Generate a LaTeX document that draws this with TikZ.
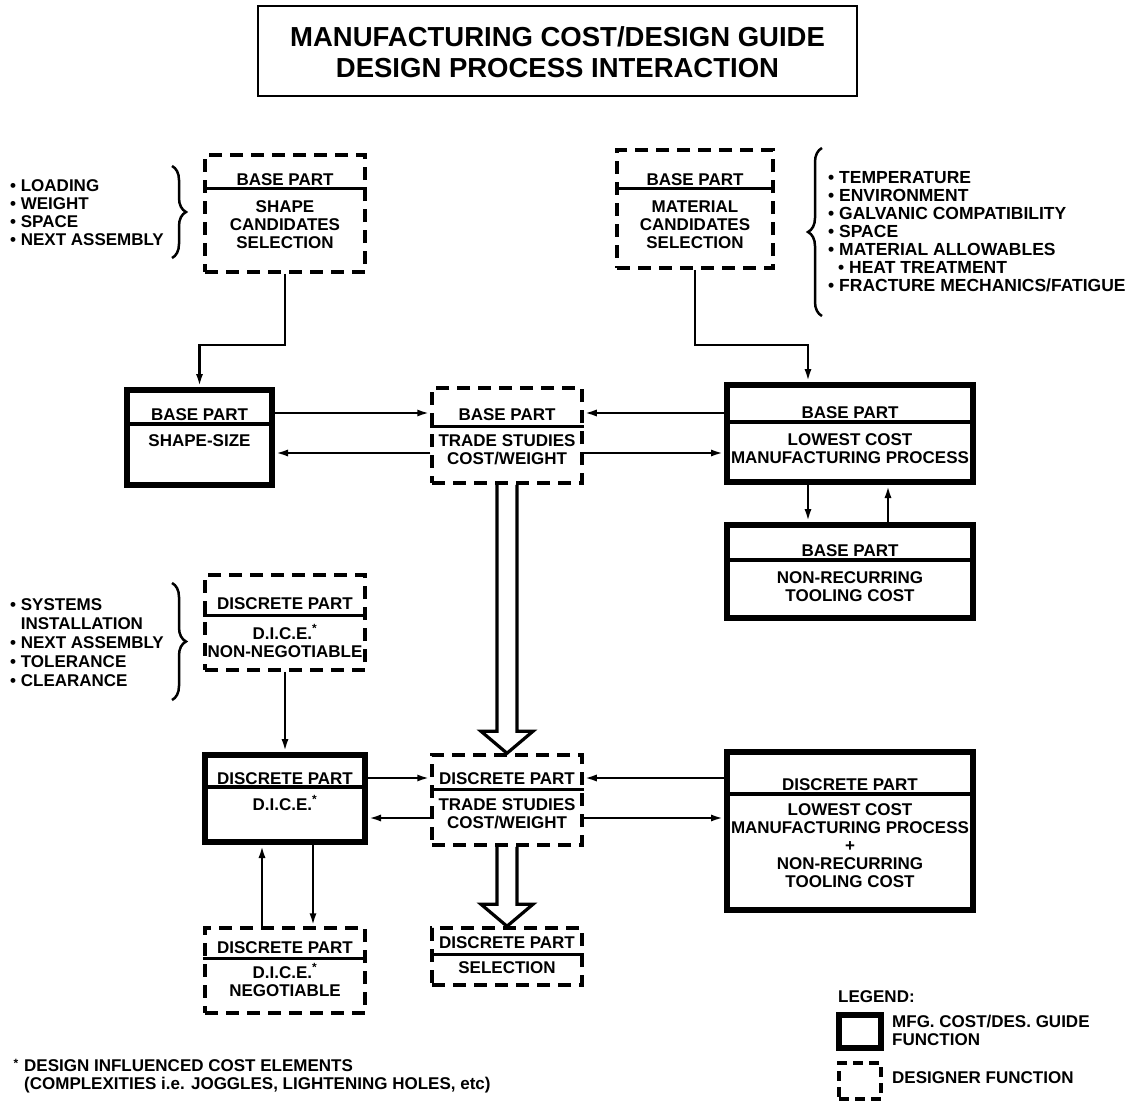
\documentclass[tikz,border=0pt]{standalone}
\usepackage{fontspec}
\setmainfont{Liberation Sans}
\usetikzlibrary{arrows.meta,decorations.pathreplacing,calc}
\begin{document}
\begin{tikzpicture}[x=1pt,y=-1pt,
  sbox/.style={draw, line width=6pt, inner sep=0pt},
  dbox/.style={draw, line width=3.5pt, dash pattern=on 13pt off 8pt, inner sep=0pt},
  sdiv/.style={line width=3.5pt},
  ddiv/.style={line width=2.8pt},
  conn/.style={line width=2.8pt},
  arr/.style={conn, -{Latex[length=13pt,width=7pt]}},
  hollow/.style={line width=3.2pt, line join=miter},
  txt/.style={font=\fontsize{17}{18}\selectfont\bfseries, align=center, inner sep=0pt},
  lst/.style={font=\fontsize{17}{18}\selectfont\bfseries, align=left, inner sep=0pt, anchor=west},
  brc/.style={line width=2.5pt, decorate, decoration={brace, amplitude=14pt}},
]
\useasboundingbox (0,0) rectangle (1144,1103);

% helper coordinates
\coordinate (yj) at (0,345);
\coordinate (yb1) at (0,413);
\coordinate (yb2) at (0,453);
\coordinate (yd1) at (0,778);
\coordinate (yd2) at (0,818);
\coordinate (xm) at (808,0);
\coordinate (xr) at (888,0);
\coordinate (xl) at (262,0);
\coordinate (xr2) at (313,0);

% title
\node[draw, line width=2pt, minimum width=599pt, minimum height=90pt, inner sep=0pt] (title) at (557.5,51) {};
\node[font=\fontsize{27.5}{31}\selectfont\bfseries, align=center, inner sep=0pt] (titletext) at (557.5,52.5) {MANUFACTURING COST/DESIGN GUIDE\\DESIGN PROCESS INTERACTION};

% shape candidates
\node[dbox, minimum width=160pt, minimum height=117pt] (shapesel) at (285,213.5) {};
\draw[ddiv] ($(shapesel.north west)+(0,35)$) -- ($(shapesel.north east)+(0,35)$);
\node[txt] (shapeselh) at (285,180) {BASE PART};
\node[txt] (shapeselt) at (285,225) {SHAPE\\CANDIDATES\\SELECTION};
\node[lst] (lista) at (10,213) {• LOADING\\• WEIGHT\\• SPACE\\• NEXT ASSEMBLY};
\draw[brc] (172,166) -- (172,258);

% material candidates
\node[dbox, minimum width=156pt, minimum height=118pt] (matsel) at (695,209) {};
\draw[ddiv] ($(matsel.north west)+(0,40)$) -- ($(matsel.north east)+(0,40)$);
\node[txt] (matselh) at (695,180) {BASE PART};
\node[txt] (matselt) at (695,225) {MATERIAL\\CANDIDATES\\SELECTION};
\node[lst, font=\fontsize{17.5}{18}\selectfont\bfseries] (listb) at (828,231.5) {• TEMPERATURE\\• ENVIRONMENT\\• GALVANIC COMPATIBILITY\\• SPACE\\• MATERIAL ALLOWABLES\\\hspace*{10pt}• HEAT TREATMENT\\• FRACTURE MECHANICS/FATIGUE};
\draw[brc] (822,316) -- (822,148);

% shape-size
\node[sbox, minimum width=145pt, minimum height=95pt] (shapesize) at (199.5,437.5) {};
\draw[sdiv] ($(shapesize.north west)+(0,37)$) -- ($(shapesize.north east)+(0,37)$);
\node[txt] (shapesizeh) at (199.5,415) {BASE PART};
\node[txt] (shapesizet) at (199.5,441) {SHAPE-SIZE};

% trade studies base
\node[dbox, minimum width=150pt, minimum height=95pt] (tradebase) at (507,435.5) {};
\draw[ddiv] ($(tradebase.north west)+(0,40)$) -- ($(tradebase.north east)+(0,40)$);
\node[txt] (tradebaseh) at (507,415) {BASE PART};
\node[txt] (tradebaset) at (507,450) {TRADE STUDIES\\COST/WEIGHT};

% lowest cost base
\node[sbox, minimum width=246pt, minimum height=97pt] (lcbase) at (850,433.5) {};
\draw[sdiv] ($(lcbase.north west)+(0,40)$) -- ($(lcbase.north east)+(0,40)$);
\node[txt] (lcbaseh) at (850,413) {BASE PART};
\node[txt] (lcbaset) at (850,449) {LOWEST COST\\MANUFACTURING PROCESS};

% tooling base
\node[sbox, minimum width=246pt, minimum height=93pt] (toolbase) at (850,571.5) {};
\draw[sdiv] ($(toolbase.north west)+(0,38)$) -- ($(toolbase.north east)+(0,38)$);
\node[txt] (toolbaseh) at (850,551) {BASE PART};
\node[txt] (toolbaset) at (850,587) {NON-RECURRING\\TOOLING COST};

% non-negotiable
\node[dbox, minimum width=160pt, minimum height=95pt] (nonneg) at (285,622.5) {};
\draw[ddiv] ($(nonneg.north west)+(0,42)$) -- ($(nonneg.north east)+(0,42)$);
\node[txt] (nonnegh) at (285,604) {DISCRETE PART};
\node[txt] (nonnegt) at (285,641) {D.I.C.E.\textsuperscript{*}\\NON-NEGOTIABLE};
\node[lst, font=\fontsize{17}{19}\selectfont\bfseries] (listc) at (10,643) {• SYSTEMS\\\phantom{• }INSTALLATION\\• NEXT ASSEMBLY\\• TOLERANCE\\• CLEARANCE};
\draw[brc] (172,583) -- (172,700);

% D.I.C.E.
\node[sbox, minimum width=160pt, minimum height=87pt] (dice) at (285,798.5) {};
\draw[sdiv] ($(dice.north west)+(0,35)$) -- ($(dice.north east)+(0,35)$);
\node[txt] (diceh) at (285,779) {DISCRETE PART};
\node[txt] (dicet) at (285,803) {D.I.C.E.\textsuperscript{*}};

% trade studies discrete
\node[dbox, minimum width=150pt, minimum height=90pt] (tradedisc) at (507,800) {};
\draw[ddiv] ($(tradedisc.north west)+(0,36)$) -- ($(tradedisc.north east)+(0,36)$);
\node[txt] (tradedisch) at (507,779) {DISCRETE PART};
\node[txt] (tradedisct) at (507,814) {TRADE STUDIES\\COST/WEIGHT};

% lowest cost discrete
\node[sbox, minimum width=246pt, minimum height=158pt] (lcdisc) at (850,831) {};
\draw[sdiv] ($(lcdisc.north west)+(0,45)$) -- ($(lcdisc.north east)+(0,45)$);
\node[txt] (lcdisch) at (850,785) {DISCRETE PART};
\node[txt] (lcdisct) at (850,846) {LOWEST COST\\MANUFACTURING PROCESS\\+\\NON-RECURRING\\TOOLING COST};

% negotiable
\node[dbox, minimum width=160pt, minimum height=85pt] (negot) at (285,970.5) {};
\draw[ddiv] ($(negot.north west)+(0,32)$) -- ($(negot.north east)+(0,32)$);
\node[txt] (negoth) at (285,948) {DISCRETE PART};
\node[txt] (negott) at (285,980) {D.I.C.E.\textsuperscript{*}\\NEGOTIABLE};

% selection
\node[dbox, minimum width=150pt, minimum height=57pt] (selection) at (507,956.5) {};
\draw[ddiv] ($(selection.north west)+(0,28)$) -- ($(selection.north east)+(0,28)$);
\node[txt] (selectionh) at (507,943) {DISCRETE PART};
\node[txt] (selectiont) at (507,968) {SELECTION};

% connectors
\draw[arr] (shapesel.south) -- (shapesel.south |- yj) -| (shapesize.north);
\draw[arr] (matsel.south) -- (matsel.south |- yj) -| (lcbase.north -| xm);
\draw[arr] (shapesize.east |- yb1) -- (tradebase.west |- yb1);
\draw[arr] (tradebase.west |- yb2) -- (shapesize.east |- yb2);
\draw[arr] (lcbase.west |- yb1) -- (tradebase.east |- yb1);
\draw[arr] (tradebase.east |- yb2) -- (lcbase.west |- yb2);
\draw[arr] (lcbase.south -| xm) -- (toolbase.north -| xm);
\draw[arr] (toolbase.north -| xr) -- (lcbase.south -| xr);
\draw[arr] (nonneg.south) -- (dice.north);
\draw[arr] (dice.east |- yd1) -- (tradedisc.west |- yd1);
\draw[arr] (tradedisc.west |- yd2) -- (dice.east |- yd2);
\draw[arr] (lcdisc.west |- yd1) -- (tradedisc.east |- yd1);
\draw[arr] (tradedisc.east |- yd2) -- (lcdisc.west |- yd2);
\draw[arr] (negot.north -| xl) -- (dice.south -| xl);
\draw[arr] (dice.south -| xr2) -- (negot.north -| xr2);

% hollow arrows
\draw[hollow] ($(tradebase.south)+(-10,0)$) -- ($(tradedisc.north)+(-10,-22)$) -- ($(tradedisc.north)+(-26,-22)$) -- (tradedisc.north) -- ($(tradedisc.north)+(26,-22)$) -- ($(tradedisc.north)+(10,-22)$) -- ($(tradebase.south)+(10,0)$);
\draw[hollow] ($(tradedisc.south)+(-10,0)$) -- ($(selection.north)+(-10,-22)$) -- ($(selection.north)+(-26,-22)$) -- (selection.north) -- ($(selection.north)+(26,-22)$) -- ($(selection.north)+(10,-22)$) -- ($(tradedisc.south)+(10,0)$);

% footnote
\node[inner sep=0pt, font=\fontsize{12}{12}\selectfont\bfseries] (footstar) at (16,1063) {*};
\node[lst] (foot) at (24,1076.5) {DESIGN INFLUENCED COST ELEMENTS\\(COMPLEXITIES i.e. JOGGLES, LIGHTENING HOLES, etc)};

% legend
\node[lst] (legh) at (838,997) {LEGEND:};
\node[sbox, minimum width=42pt, minimum height=33pt] (legs) at (860,1031.5) {};
\node[lst] (legst) at (892,1030) {MFG. COST/DES. GUIDE\\FUNCTION};
\node[dbox, dash pattern=on 10pt off 6pt, minimum width=42pt, minimum height=36pt] (legd) at (860,1081) {};
\node[lst] (legdt) at (892,1078) {DESIGNER FUNCTION};
\end{tikzpicture}
\end{document}
